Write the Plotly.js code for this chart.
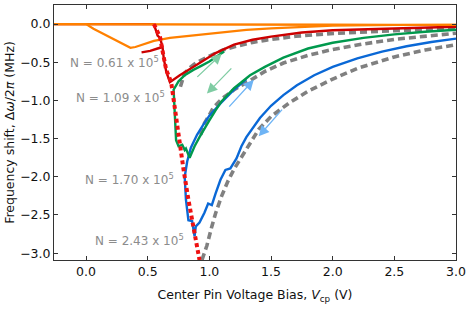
<!DOCTYPE html>
<html>
<head>
<meta charset="utf-8">
<script src="https://cdn.plot.ly/plotly-3.0.1.min.js"></script>
<style>html,body{margin:0;padding:0;background:#fff;}#chart{width:471px;height:311px;}</style>
</head>
<body>
<div id="chart"></div>
<script>
// ---- data ----
// N = 0.61e5 (orange): return sweep (flat) and forward sweep (dip)
const orangeFlatX = [-0.26, 0.5, 1.0, 1.5, 2.0, 2.5, 3.0];
const orangeFlatY = [0.0, 0.0, 0.0, -0.005, -0.008, -0.01, -0.01];
const orangeDipX = [-0.26, 0.0, 0.06, 0.19, 0.30, 0.36, 0.40, 0.45, 0.55, 0.68, 0.80, 0.92, 1.10, 1.30, 1.50, 1.75, 2.00, 2.50, 3.00];
const orangeDipY = [0.0, 0.0, -0.06, -0.17, -0.26, -0.31, -0.30, -0.27, -0.22, -0.18, -0.16, -0.14, -0.105, -0.075, -0.055, -0.035, -0.02, -0.012, -0.01];

// N = 1.09e5 (red)
const redX = [-0.26, 0.55, 0.56, 0.58, 0.60, 0.62, 0.63, 0.65, 0.68, 0.72, 0.76, 0.82, 0.87, 0.95, 1.05, 1.20, 1.35, 1.50, 1.75, 2.00, 2.50, 3.00];
const redY = [0.0, 0.0, -0.05, -0.15, -0.18, -0.30, -0.45, -0.62, -0.76, -0.71, -0.67, -0.61, -0.56, -0.48, -0.38, -0.27, -0.205, -0.165, -0.11, -0.08, -0.055, -0.035];
const redTailX = [0.45, 0.52, 0.58, 0.62];
const redTailY = [-0.37, -0.35, -0.32, -0.30];

// N = 1.70e5 (green): upper branch, drop, lower (main) branch
const greenX = [1.12, 1.00, 0.93, 0.87, 0.80, 0.75, 0.71, 0.715, 0.72, 0.73, 0.75, 0.78, 0.80, 0.81, 0.84, 0.88, 0.92, 0.95, 1.00, 1.05, 1.10, 1.20, 1.33, 1.45, 1.60, 1.80, 2.00, 2.25, 2.50, 2.75, 3.00];
const greenY = [-0.36, -0.49, -0.55, -0.60, -0.67, -0.75, -0.86, -1.00, -1.08, -1.52, -1.60, -1.58, -1.65, -1.63, -1.75, -1.60, -1.48, -1.39, -1.26, -1.13, -1.01, -0.84, -0.67, -0.56, -0.44, -0.32, -0.245, -0.18, -0.135, -0.10, -0.075];

// N = 2.43e5 (blue): upper branch, drop, lower (main) branch
const blueX = [1.30, 1.20, 1.09, 1.00, 0.95, 0.90, 0.85, 0.82, 0.80, 0.81, 0.83, 0.86, 0.88, 0.89, 0.92, 0.96, 0.99, 1.02, 1.05, 1.09, 1.13, 1.17, 1.22, 1.26, 1.30, 1.35, 1.41, 1.50, 1.60, 1.71, 1.85, 2.00, 2.20, 2.40, 2.60, 2.80, 3.00];
const blueY = [-0.72, -0.86, -1.04, -1.20, -1.32, -1.45, -1.62, -1.80, -2.00, -2.30, -2.57, -2.58, -2.78, -2.65, -2.60, -2.47, -2.35, -2.37, -2.22, -2.04, -1.91, -1.89, -1.76, -1.60, -1.48, -1.36, -1.23, -1.07, -0.93, -0.80, -0.67, -0.56, -0.45, -0.36, -0.29, -0.235, -0.19];

// theory curves (grey dashed)
const theory1X = [0.765, 0.80, 0.85, 0.90, 1.00, 1.11, 1.22, 1.35, 1.46, 1.70, 1.98, 2.25, 2.50, 2.75, 3.00];
const theory1Y = [-0.82, -0.64, -0.56, -0.50, -0.42, -0.34, -0.29, -0.24, -0.21, -0.16, -0.125, -0.10, -0.085, -0.074, -0.065];
const theory2X = [0.93, 0.96, 1.00, 1.03, 1.10, 1.20, 1.33, 1.45, 1.60, 1.80, 1.98, 2.25, 2.50, 2.75, 3.00];
const theory2Y = [-1.45, -1.30, -1.19, -1.10, -0.98, -0.86, -0.74, -0.62, -0.51, -0.41, -0.34, -0.26, -0.20, -0.155, -0.12];
const theory3X = [0.94, 0.98, 1.02, 1.05, 1.10, 1.15, 1.20, 1.25, 1.33, 1.40, 1.50, 1.65, 1.80, 2.00, 2.20, 2.50, 2.75, 3.00];
const theory3Y = [-3.09, -2.90, -2.65, -2.48, -2.25, -2.06, -1.90, -1.77, -1.55, -1.38, -1.21, -1.03, -0.88, -0.72, -0.58, -0.43, -0.34, -0.27];
// bistability edge (red dotted)
const edgeX = [0.55, 0.57, 0.60, 0.62, 0.65, 0.69, 0.71, 0.74, 0.76, 0.79, 0.83, 0.88, 0.92];
const edgeY = [0.0, -0.08, -0.17, -0.35, -0.60, -0.76, -1.00, -1.30, -1.56, -1.90, -2.30, -2.78, -3.09];

// labels
const labelText = ["N = 0.61 x 10<sup>5</sup>", "N = 1.09 x 10<sup>5</sup>", "N = 1.70 x 10<sup>5</sup>", "N = 2.43 x 10<sup>5</sup>"];
const labelX = [-0.15, -0.10, -0.027, 0.054];
const labelY = [-0.49, -0.955, -2.03, -2.83];
// sweep-direction arrows: tail -> tip
const arrowTailX = [0.89, 1.19, 1.15, 1.60];
const arrowTailY = [-0.71, -0.56, -1.10, -1.10];
const arrowTipX = [1.10, 0.98, 1.36, 1.40];
const arrowTipY = [-0.39, -0.91, -0.73, -1.47];
const arrowColor = ["#7fcca3", "#7fcca3", "#6eb4f5", "#6eb4f5"];

const C_OR = "#ff8000", C_RED = "#cc0000", C_GR = "#00994d", C_BL = "#0a68d6", C_GREY = "#808080";

function line(x, y, color, width, dash) {
  return {x: x, y: y, type: "scatter", mode: "lines", hoverinfo: "skip",
          line: {color: color, width: width, dash: dash || "solid"}};
}

const traces = [
  line(theory1X, theory1Y, C_GREY, 3.6, "7px,4px"),
  line(theory2X, theory2Y, C_GREY, 3.6, "7px,4px"),
  line(theory3X, theory3Y, C_GREY, 3.6, "7px,4px"),
  line(blueX, blueY, C_BL, 2.4),
  line(redX, redY, C_RED, 2.4),
  line(redTailX, redTailY, C_RED, 2.4),
  line(greenX, greenY, C_GR, 2.4),
  line(orangeDipX, orangeDipY, C_OR, 2.2),
  line(orangeFlatX, orangeFlatY, C_OR, 2.4),
  line(edgeX, edgeY, "#ee1111", 4, "4px,3px")
];

const annotations = [];
for (let i = 0; i < labelText.length; i++) {
  annotations.push({x: labelX[i], y: labelY[i], xref: "x", yref: "y", text: labelText[i],
    showarrow: false, xanchor: "left", yanchor: "middle",
    font: {family: "DejaVu Sans", size: 12, color: "#8c8c8c"}});
}
for (let i = 0; i < arrowTipX.length; i++) {
  annotations.push({x: arrowTipX[i], y: arrowTipY[i], ax: arrowTailX[i], ay: arrowTailY[i],
    xref: "x", yref: "y", axref: "x", ayref: "y", text: "", showarrow: true,
    arrowhead: 2, arrowsize: 1.6, arrowwidth: 1.3, arrowcolor: arrowColor[i], standoff: 0, startstandoff: 0});
}

const axisCommon = {showgrid: false, zeroline: false, showline: true, linecolor: "#333", linewidth: 1,
  mirror: "ticks", ticks: "inside", ticklen: 4, tickcolor: "#333", tickwidth: 1,
  tickfont: {family: "DejaVu Sans", size: 12.5, color: "#111"}, tickformat: ".1f"};

const layout = {
  width: 471, height: 311,
  margin: {l: 54, r: 15, t: 5, b: 51},
  paper_bgcolor: "#fff", plot_bgcolor: "#fff",
  showlegend: false,
  font: {family: "DejaVu Sans", size: 12, color: "#111"},
  xaxis: Object.assign({}, axisCommon, {range: [-0.26, 3.0], dtick: 0.5, tick0: 0,
    title: {text: "Center Pin Voltage Bias, <i>V</i><sub>cp</sub> (V)", font: {family: "DejaVu Sans", size: 12.5, color: "#111"}, standoff: 12}}),
  yaxis: Object.assign({}, axisCommon, {range: [-3.09, 0.25], dtick: 0.5, tick0: 0, automargin: true,
    title: {text: "Frequency shift, Δ<i>ω</i>/2<i>π</i> (MHz)", font: {family: "DejaVu Sans", size: 12.5, color: "#111"}, standoff: 2}}),
  annotations: annotations
};

Plotly.newPlot("chart", traces, layout, {staticPlot: true, displayModeBar: false});
</script>
</body>
</html>
